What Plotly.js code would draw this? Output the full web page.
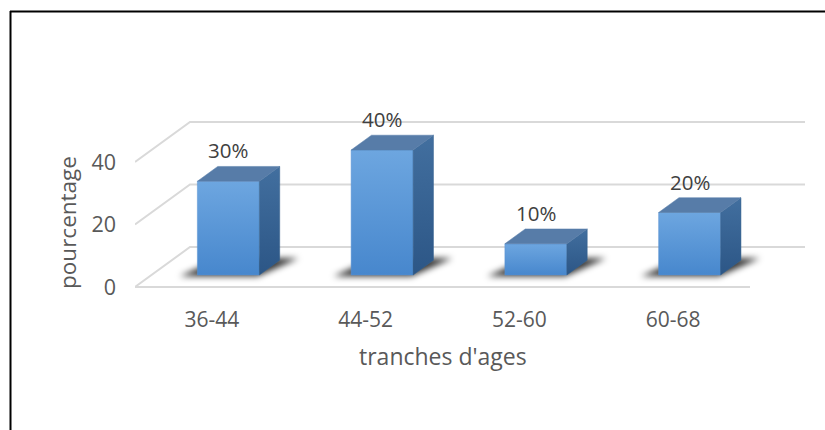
<!DOCTYPE html>
<html>
<head>
<meta charset="utf-8">
<script src="https://cdn.plot.ly/plotly-3.0.1.min.js"></script>
<style>
  html, body { margin: 0; padding: 0; background: #ffffff; }
  #chart { width: 825px; height: 430px; }
</style>
</head>
<body>
<div id="chart"></div>
<script>
// Age groups and their share (%)
const categories = ['36-44', '44-52', '52-60', '60-68'];
const values = [30, 40, 10, 20];
const valueLabels = ['30%', '40%', '10%', '20%'];
const yTickValues = [0, 20, 40];
const yTickText = ['0', '20', '40'];

// ---- plot frame (pixels) ----
const W = 825, H = 430;
const M = { l: 135, r: 10, t: 100, b: 130 };
const plotW = W - M.l - M.r;        // 680
const plotH = H - M.t - M.b;        // 200
const PX_PER_CAT = 153.75;          // pixels per category on the floor
const PX_PER_VAL = 3.125;           // pixels per percentage point
const X_MAX = plotW / PX_PER_CAT;
const Y_MIN = -13 / PX_PER_VAL;
const Y_MAX = Y_MIN + plotH / PX_PER_VAL;

// ---- oblique projection of the 3D box ----
const DX = 55 / PX_PER_CAT;         // full depth, horizontal shift (x units)
const DY = 40 / PX_PER_VAL;         // full depth, vertical shift (y units)
const BAR_W = 62 / PX_PER_CAT;      // bar width (x units)
const D_FRONT = 0.30, D_BACK = 0.67; // bar depth span (fraction of floor depth)

function proj(x, v, d) { return [x + d * DX, v + d * DY]; }
function poly(pts) {
  const xs = pts.map(p => p[0]), ys = pts.map(p => p[1]);
  xs.push(xs[0]); ys.push(ys[0]);
  return { x: xs, y: ys };
}
const toPaperX = px => (px - M.l) / plotW;
const toPaperY = py => (M.t + plotH - py) / plotH;

const traces = [];
const GRID = '#d9d9d9';
const nCat = categories.length;

// back wall grid lines, left wall diagonals, front floor edge
yTickValues.forEach(t => {
  const a = proj(0, t, 1), b = proj(nCat, t, 1), f = proj(0, t, 0);
  traces.push({ type: 'scatter', mode: 'lines', x: [f[0], a[0], b[0]], y: [f[1], a[1], b[1]],
    line: { color: GRID, width: 2 }, hoverinfo: 'skip', showlegend: false });
});
{
  const a = proj(0, 0, 0), b = proj(nCat, 0, 0);
  traces.push({ type: 'scatter', mode: 'lines', x: [a[0], b[0]], y: [a[1], b[1]],
    line: { color: GRID, width: 2 }, hoverinfo: 'skip', showlegend: false });
}

// soft floor shadows under each bar
const shadowStart = traces.length;
values.forEach((v, i) => {
  const c = i + 0.5, xl = c - BAR_W / 2, xr = c + BAR_W / 2;
  const p = poly([
    proj(xl - 16 / PX_PER_CAT, 0, 0.27),
    proj(xr, 0, 0.27),
    proj(xr + 16 / PX_PER_CAT, 0, 0.72),
    proj(xl, 0, 0.72)
  ]);
  traces.push({ type: 'scatter', mode: 'lines', x: p.x, y: p.y, fill: 'toself',
    fillcolor: 'rgba(0,0,0,0.8)', line: { width: 0, color: 'rgba(0,0,0,0)' },
    hoverinfo: 'skip', showlegend: false });
});
const shadowEnd = traces.length;

// bars: front, side and top faces
values.forEach((v, i) => {
  const c = i + 0.5, xl = c - BAR_W / 2, xr = c + BAR_W / 2;
  const y0f = proj(xl, 0, D_FRONT)[1], y1f = proj(xl, v, D_FRONT)[1];
  const front = poly([proj(xl, 0, D_FRONT), proj(xr, 0, D_FRONT), proj(xr, v, D_FRONT), proj(xl, v, D_FRONT)]);
  traces.push({ type: 'scatter', mode: 'lines', x: front.x, y: front.y, fill: 'toself',
    fillgradient: { type: 'vertical', start: y0f, stop: y1f,
      colorscale: [[0, '#4787cd'], [1, '#6da6e0']] },
    line: { width: 0.5, color: '#5a93d2' }, hoverinfo: 'skip', showlegend: false });
  const side = poly([proj(xr, 0, D_FRONT), proj(xr, 0, D_BACK), proj(xr, v, D_BACK), proj(xr, v, D_FRONT)]);
  traces.push({ type: 'scatter', mode: 'lines', x: side.x, y: side.y, fill: 'toself',
    fillgradient: { type: 'vertical', start: y0f, stop: proj(xr, v, D_BACK)[1],
      colorscale: [[0, '#2c5686'], [1, '#426f9f']] },
    line: { width: 0.5, color: '#36628f' }, hoverinfo: 'skip', showlegend: false });
  const top = poly([proj(xl, v, D_FRONT), proj(xr, v, D_FRONT), proj(xr, v, D_BACK), proj(xl, v, D_BACK)]);
  traces.push({ type: 'scatter', mode: 'lines', x: top.x, y: top.y, fill: 'toself',
    fillcolor: '#577ca8', line: { width: 0.5, color: '#577ca8' },
    hoverinfo: 'skip', showlegend: false });
});

const FONT = 'Open Sans, Noto Sans, sans-serif';

// value labels above each bar
const annotations = values.map((v, i) => {
  const xy = proj(i + 0.5, v, D_BACK);
  return { x: i + 0.5 + D_FRONT * DX, y: xy[1], xref: 'x', yref: 'y',
    text: valueLabels[i], showarrow: false, yanchor: 'bottom', xanchor: 'center',
    font: { family: FONT, size: 20.5, color: '#404040' } };
});
annotations.push({ x: nCat / 2, y: toPaperY(356), xref: 'x', yref: 'paper',
  text: "tranches d'ages", showarrow: false, xanchor: 'center', yanchor: 'middle',
  font: { family: FONT, size: 23, color: '#595959' } });
annotations.push({ x: toPaperX(68), y: 20.5, xref: 'paper', yref: 'y',
  text: 'pourcentage', textangle: -90, showarrow: false, xanchor: 'center', yanchor: 'middle',
  font: { family: FONT, size: 22.5, color: '#595959' } });

// chart frame (left and top edges)
const shapes = [
  { type: 'line', xref: 'paper', yref: 'paper', x0: toPaperX(10.5), x1: toPaperX(10.5),
    y0: toPaperY(11), y1: toPaperY(440), line: { color: '#000', width: 2 } },
  { type: 'line', xref: 'paper', yref: 'paper', x0: toPaperX(10), x1: toPaperX(840),
    y0: toPaperY(11.5), y1: toPaperY(11.5), line: { color: '#000', width: 2 } }
];

const layout = {
  width: W, height: H,
  margin: M,
  paper_bgcolor: '#ffffff', plot_bgcolor: '#ffffff',
  showlegend: false,
  xaxis: { range: [0, X_MAX], showgrid: false, zeroline: false, showline: false,
    tickmode: 'array', tickvals: categories.map((_, i) => i + 0.5), ticktext: categories,
    ticks: '', ticklabelstandoff: 5, fixedrange: true,
    tickfont: { family: FONT, size: 21, color: '#595959' } },
  yaxis: { range: [Y_MIN, Y_MAX], showgrid: false, zeroline: false, showline: false,
    tickmode: 'array', tickvals: yTickValues, ticktext: yTickText,
    ticks: '', ticklabelstandoff: 18, fixedrange: true,
    tickfont: { family: FONT, size: 21.5, color: '#595959' } },
  annotations: annotations,
  shapes: shapes
};

Plotly.newPlot('chart', traces, layout, { displayModeBar: false, staticPlot: true }).then(gd => {
  // blur the floor shadows
  const svg = gd.querySelector('svg.main-svg');
  const NS = 'http://www.w3.org/2000/svg';
  let defs = svg.querySelector('defs');
  if (!defs) { defs = document.createElementNS(NS, 'defs'); svg.insertBefore(defs, svg.firstChild); }
  const filter = document.createElementNS(NS, 'filter');
  filter.setAttribute('id', 'floor-shadow-blur');
  filter.setAttribute('x', '-50%'); filter.setAttribute('y', '-50%');
  filter.setAttribute('width', '200%'); filter.setAttribute('height', '200%');
  const blur = document.createElementNS(NS, 'feGaussianBlur');
  blur.setAttribute('stdDeviation', '3');
  filter.appendChild(blur);
  defs.appendChild(filter);
  const groups = gd.querySelectorAll('.scatterlayer .trace');
  for (let k = shadowStart; k < shadowEnd; k++) {
    if (groups[k]) groups[k].setAttribute('filter', 'url(#floor-shadow-blur)');
  }
});
</script>
</body>
</html>
